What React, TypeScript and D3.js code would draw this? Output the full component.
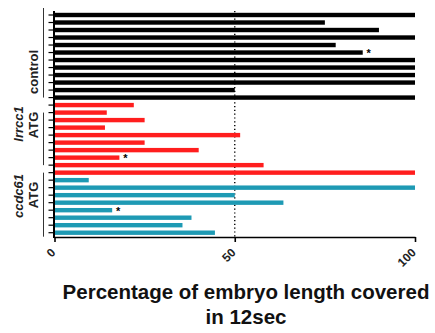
import React, { useRef, useEffect } from "react";
import * as d3 from "d3";

// values (percent of embryo length)
const controlValues = [100, 75, 90, 100, 78, 85.5, 100, 100, 100, 100, 50, 100];
const lrrcc1Values = [22, 14.5, 25, 14, 51.5, 25, 40, 18, 58, 100];
const ccdc61Values = [9.5, 100, 50, 63.5, 16, 38, 35.5, 44.5];
// index of the embryo marked with * inside each group
const starIndex = [5, 7, 4];
const groupNames = ["control", "lrrcc1", "ccdc61"];
const groupColors = ["#000000", "#ff1e1e", "#1e9ab4"];
const xTicks = [0, 50, 100];
const xTitle = ["Percentage of embryo length covered", "in 12sec"];

const App = () => {
  const svgRef = useRef<SVGSVGElement>(null);

  useEffect(() => {
    const width = 435;
    const height = 333;
    const svg = d3.select(svgRef.current).attr("width", width).attr("height", height);
    svg.selectAll("*").remove();

    const groups = [controlValues, lrrcc1Values, ccdc61Values];
    const rows: { v: number; g: number; star: boolean }[] = [];
    groups.forEach((vals, g) =>
      vals.forEach((v, i) => rows.push({ v, g, star: i === starIndex[g] }))
    );

    const x = d3.scaleLinear().domain([0, 100]).range([54.5, 415]);
    const y = d3
      .scalePoint<number>()
      .domain(rows.map((_, i) => i))
      .range([15, 232.7]);
    const axisY = 237;
    const font = "Liberation Sans, Arial, sans-serif";

    // dotted line at 50%
    svg
      .append("line")
      .attr("x1", x(50))
      .attr("x2", x(50))
      .attr("y1", 11)
      .attr("y2", axisY)
      .attr("stroke", "#000")
      .attr("stroke-width", 1.4)
      .attr("stroke-dasharray", "1.2,2.6");

    // bars
    svg
      .selectAll("rect.bar")
      .data(rows)
      .join("rect")
      .attr("class", "bar")
      .attr("x", x(0))
      .attr("y", (d, i) => y(i)! - 2.2)
      .attr("width", (d) => x(d.v) - x(0))
      .attr("height", 4.4)
      .attr("fill", (d) => groupColors[d.g]);

    // stars
    svg
      .selectAll("text.star")
      .data(rows.map((d, i) => ({ ...d, i })).filter((d) => d.star))
      .join("text")
      .attr("class", "star")
      .attr("x", (d) => x(d.v) + 6)
      .attr("y", (d) => y(d.i)! + 4.5)
      .attr("font-family", font)
      .attr("font-weight", "bold")
      .attr("font-size", 11)
      .attr("text-anchor", "middle")
      .text("*");

    // y axis: line + tick per embryo
    svg
      .append("line")
      .attr("x1", x(0) - 0.5)
      .attr("x2", x(0) - 0.5)
      .attr("y1", 11)
      .attr("y2", axisY + 1)
      .attr("stroke", "#000")
      .attr("stroke-width", 2);
    svg
      .selectAll("line.ytick")
      .data(rows)
      .join("line")
      .attr("class", "ytick")
      .attr("x1", x(0) - 6)
      .attr("x2", x(0))
      .attr("y1", (d, i) => y(i)!)
      .attr("y2", (d, i) => y(i)!)
      .attr("stroke", "#000")
      .attr("stroke-width", 1.2);

    // x axis
    const xAxis = svg
      .append("g")
      .attr("transform", `translate(0,${axisY})`)
      .call(d3.axisBottom(x).tickValues(xTicks).tickSize(5).tickSizeOuter(0));
    xAxis.select(".domain").attr("stroke-width", 1.6);
    xAxis.selectAll(".tick line").attr("stroke-width", 1.6);
    xAxis
      .selectAll(".tick text")
      .attr("font-family", font)
      .attr("font-weight", "bold")
      .attr("font-size", 12)
      .attr("fill", "#222")
      .attr("text-anchor", "end")
      .attr("dy", null)
      .attr("y", null)
      .attr("transform", "translate(-1,14) rotate(-45)")
      .attr("dominant-baseline", "middle");

    // group brackets and labels
    const bracket = [
      [y(0)! - 7, y(controlValues.length - 1)!],
      [y(controlValues.length + 1)!, y(controlValues.length + 8)!],
      [y(controlValues.length + lrrcc1Values.length - 1)!, y(rows.length - 1)! + 4],
    ];
    bracket.forEach(([a, b]) =>
      svg
        .append("line")
        .attr("x1", 43.5)
        .attr("x2", 43.5)
        .attr("y1", a)
        .attr("y2", b)
        .attr("stroke", "#333")
        .attr("stroke-width", 1)
    );

    const label = (cx: number, cy: number, txt: string, italic: boolean) =>
      svg
        .append("text")
        .attr("transform", `translate(${cx},${cy}) rotate(-90)`)
        .attr("text-anchor", "middle")
        .attr("font-family", font)
        .attr("font-weight", "bold")
        .attr("font-style", italic ? "italic" : "normal")
        .attr("font-size", 13)
        .attr("fill", "#222")
        .text(txt);
    label(37.5, 72, groupNames[0], false);
    label(22.5, 124, groupNames[1], true);
    label(37.5, 125, "ATG", false);
    label(22.5, 196, groupNames[2], true);
    label(37.5, 195, "ATG", false);

    // x title
    xTitle.forEach((t, i) =>
      svg
        .append("text")
        .attr("x", 246)
        .attr("y", 299 + i * 25)
        .attr("text-anchor", "middle")
        .attr("font-family", font)
        .attr("font-weight", "bold")
        .attr("font-size", 20.5)
        .attr("fill", "#111")
        .text(t)
    );
  }, []);

  return (
    <div style={{ position: "absolute", left: 0, top: 0, background: "#fff" }}>
      <svg ref={svgRef} style={{ display: "block" }}></svg>
    </div>
  );
};

export default App;
